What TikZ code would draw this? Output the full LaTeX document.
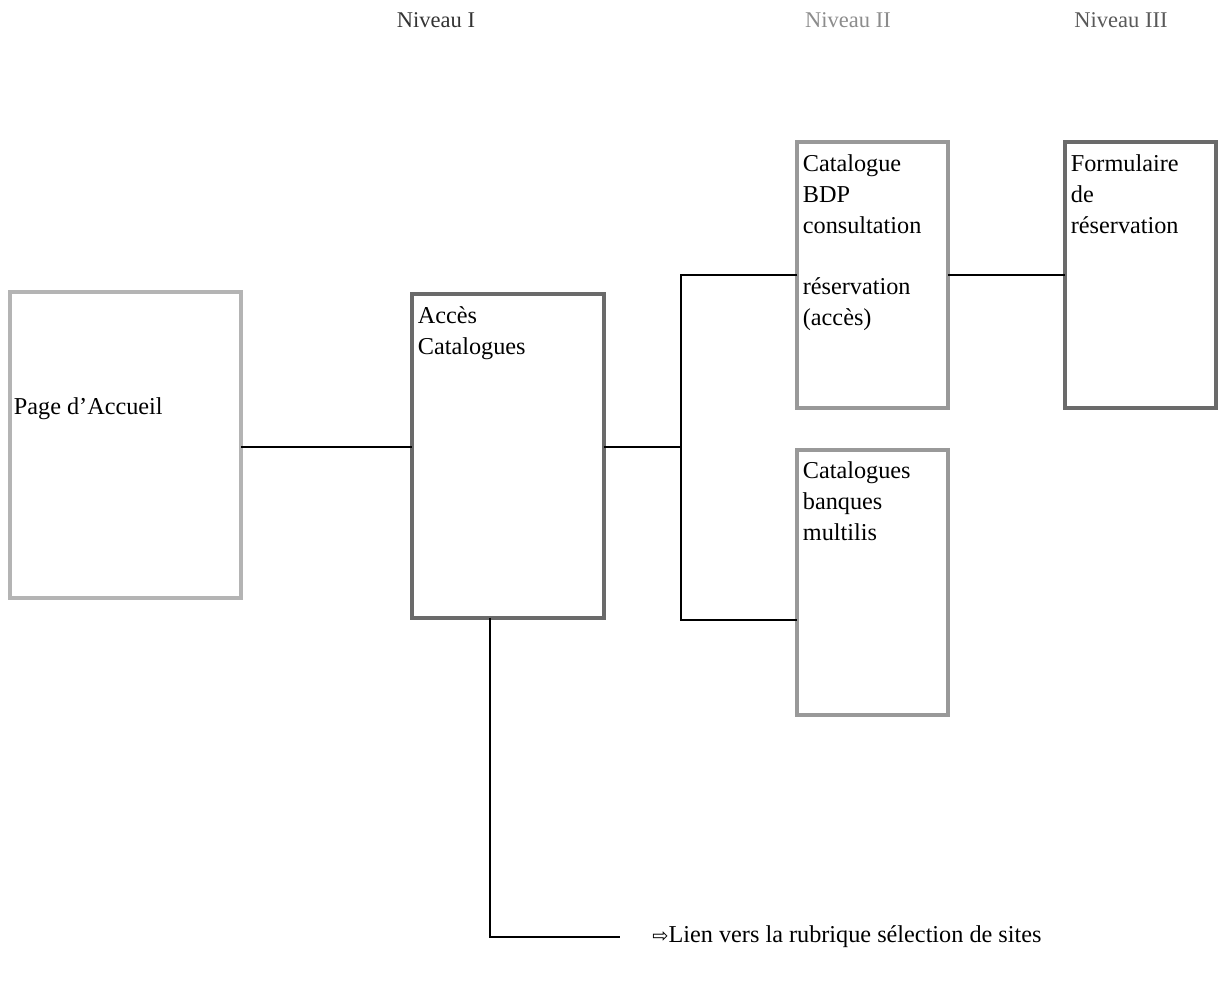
\documentclass[tikz,border=0pt]{standalone}
\usepackage{fontspec}
\setmainfont{Liberation Serif}
\newfontfamily\symbfont{DejaVu Sans}
\usepackage{xcolor}
\usetikzlibrary{positioning}

\definecolor{boxlight}{HTML}{B4B4B4}
\definecolor{boxmid}{HTML}{999999}
\definecolor{boxdark}{HTML}{6A6A6A}

\tikzset{
	page/.style={draw, line width=0.08cm, inner sep=0pt, outer sep=0pt, fill=white},
	boxtext/.style={anchor=north west, align=left, inner sep=2pt, font=\fontsize{13.8}{17.6}\selectfont},
	level/.style={font=\fontsize{12.8}{15}\selectfont},
	link/.style={line width=0.7pt, black}
}

\begin{document}
\begin{tikzpicture}[x=0.02cm, y=-0.02cm]
	\useasboundingbox (0,0) rectangle (1224,985);

	\node[level, text=black!80] (niv1) at (436,20) {Niveau I};
	\node[level, text=black!45] (niv2) at (848,20) {Niveau II};
	\node[level, text=black!65] (niv3) at (1121,20) {Niveau III};

	\node[page, draw=boxlight, minimum width=4.62cm, minimum height=6.12cm] (accueil) at (125.5,445) {};
	\node[page, draw=boxdark, minimum width=3.84cm, minimum height=6.48cm] (acces) at (508,456) {};
	\node[page, draw=boxmid, minimum width=3.02cm, minimum height=5.32cm] (bdp) at (872.5,275) {};
	\node[page, draw=boxmid, minimum width=3.02cm, minimum height=5.32cm] (banques) at (872.5,582.5) {};
	\node[page, draw=boxdark, minimum width=3.02cm, minimum height=5.32cm] (formulaire) at (1140.5,275) {};

	\node[boxtext, anchor=west] (accueiltxt) at ([yshift=0.72cm]accueil.west) {Page d'Accueil};
	\node[boxtext] (accestxt) at ([shift={(0.04cm,-0.17cm)}]acces.north west) {Accès\\Catalogues};
	\node[boxtext] (bdptxt) at ([shift={(0.04cm,-0.17cm)}]bdp.north west) {Catalogue\\BDP\\consultation\\[17.6pt]réservation\\(accès)};
	\node[boxtext] (banquestxt) at ([shift={(0.04cm,-0.17cm)}]banques.north west) {Catalogues\\banques\\multilis};
	\node[boxtext] (formtxt) at ([shift={(0.04cm,-0.17cm)}]formulaire.north west) {Formulaire\\de\\réservation};

	\coordinate (split) at (681,447);
	\coordinate (jtop) at (681,275);
	\coordinate (jbot) at (681,620);
	\coordinate (drop) at (490,937);
	\coordinate (lienend) at (620,937);

	\draw[link] (accueil.east |- split) -- (acces.west |- split);
	\draw[link] (acces.east |- split) -- (split);
	\draw[link] (bdp.west) -- (jtop) -- (jbot) -- (jbot -| banques.west);
	\draw[link] (bdp.east) -- (formulaire.west);
	\draw[link] (drop |- acces.south) -- (drop) -- (lienend);

	\node[boxtext, anchor=west, inner sep=0pt] (lien) at (652,937) {{\symbfont\fontsize{11}{12}\selectfont ⇨}Lien vers la rubrique sélection de sites};
\end{tikzpicture}
\end{document}
